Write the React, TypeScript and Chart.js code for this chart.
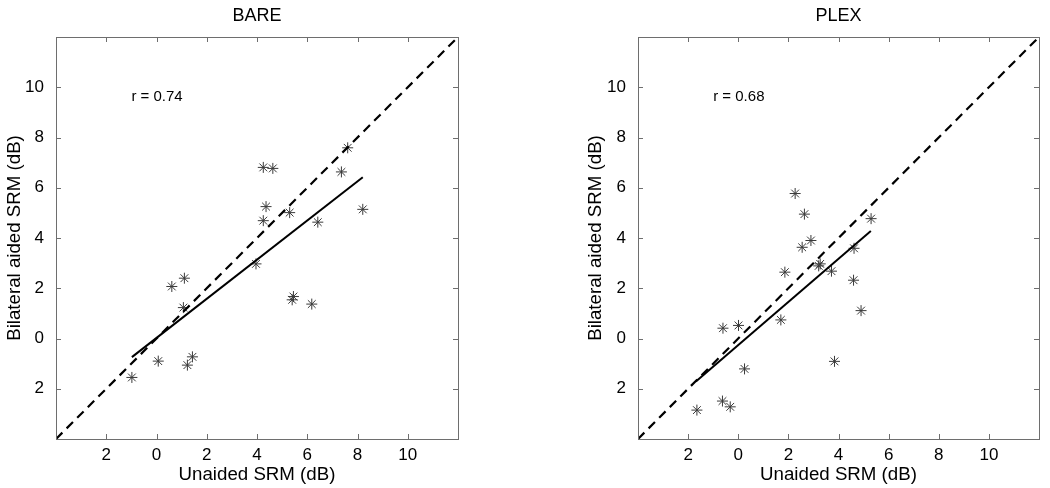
import React, { useEffect, useRef } from 'react';
import { Chart, registerables } from 'chart.js';

Chart.register(...registerables);

// ---- data ----
const bareX = [4.25, 4.63, 7.61, 7.36, 4.36, 5.30, 4.25, 6.42, 8.21, 3.96, 1.11, 0.61, 1.07, 5.45, 5.40, 6.18, 0.07, 1.43, 1.23, -0.98];
const bareY = [6.81, 6.77, 7.59, 6.63, 5.25, 5.01, 4.69, 4.63, 5.14, 2.97, 2.40, 2.07, 1.23, 1.67, 1.54, 1.37, -0.90, -0.73, -1.06, -1.55];
const bareFitX = [-0.98, 8.21];
const bareFitY = [-0.74, 6.42];

const plexX = [2.27, 2.64, 2.90, 5.30, 2.55, 4.62, 3.27, 3.21, 1.86, 3.72, 4.60, 4.90, -0.61, 0.01, 1.70, 0.25, 3.84, -0.63, -0.32, -1.65];
const plexY = [5.77, 4.95, 3.90, 4.77, 3.63, 3.59, 2.97, 2.89, 2.64, 2.68, 2.32, 1.11, 0.41, 0.52, 0.74, -1.21, -0.91, -2.49, -2.72, -2.85];
const plexFitX = [-1.69, 5.29];
const plexFitY = [-1.71, 4.28];

const identityLine = [-4, 12];
const axisMin = -4;
const axisMax = 12;
const tickValues = [-2, 0, 2, 4, 6, 8, 10];
const tickLabels = ['2', '0', '2', '4', '6', '8', '10'];

const xTitle = 'Unaided SRM (dB)';
const yTitle = 'Bilateral aided SRM (dB)';

const FONT = '"Liberation Sans", Arial, Helvetica, sans-serif';

const tickCb = (v: any) => {
  const i = tickValues.indexOf(Number(v));
  return i >= 0 ? tickLabels[i] : '';
};

const framePlugin = {
  id: 'frame',
  afterDraw(chart: any, _args: any, opts: any) {
    const { ctx, chartArea: a, scales } = chart;
    const xs = scales.x;
    const ys = scales.y;
    ctx.save();
    ctx.strokeStyle = '#6e6e6e';
    ctx.lineWidth = 1;
    ctx.strokeRect(Math.round(a.left) + 0.5, Math.round(a.top) + 0.5, Math.round(a.right - a.left), Math.round(a.bottom - a.top));
    const tl = 5;
    ctx.beginPath();
    for (const v of tickValues) {
      const px = Math.round(xs.getPixelForValue(v)) + 0.5;
      ctx.moveTo(px, a.bottom);
      ctx.lineTo(px, a.bottom - tl);
      ctx.moveTo(px, a.top);
      ctx.lineTo(px, a.top + tl);
      const py = Math.round(ys.getPixelForValue(v)) + 0.5;
      ctx.moveTo(a.left, py);
      ctx.lineTo(a.left + tl, py);
      ctx.moveTo(a.right, py);
      ctx.lineTo(a.right - tl, py);
    }
    ctx.stroke();
    // title
    ctx.fillStyle = '#000';
    ctx.font = `18px ${FONT}`;
    ctx.textAlign = 'center';
    ctx.textBaseline = 'middle';
    ctx.fillText(opts.title, (a.left + a.right) / 2, 16);
    // r text
    ctx.font = `15px ${FONT}`;
    ctx.textAlign = 'left';
    ctx.fillText(opts.rText, xs.getPixelForValue(opts.rX), ys.getPixelForValue(opts.rY));
    ctx.restore();
  },
};

type PanelProps = {
  title: string;
  rText: string;
  xs: number[];
  ys: number[];
  fitX: number[];
  fitY: number[];
  padLeft: number;
  yWidth: number;
  padRight: number;
  left: number;
};

function Panel(p: PanelProps) {
  const ref = useRef<HTMLCanvasElement>(null);
  useEffect(() => {
    if (!ref.current) return;
    const chart = new Chart(ref.current, {
      type: 'scatter',
      data: {
        datasets: [
          {
            type: 'line',
            data: identityLine.map((v) => ({ x: v, y: v })),
            borderColor: '#000',
            borderWidth: 2.2,
            borderDash: [9, 6],
            pointRadius: 0,
            fill: false,
          },
          {
            type: 'line',
            data: p.fitX.map((x, i) => ({ x, y: p.fitY[i] })),
            borderColor: '#000',
            borderWidth: 2,
            pointRadius: 0,
            fill: false,
          },
          {
            type: 'scatter',
            data: p.xs.map((x, i) => ({ x, y: p.ys[i] })),
            pointStyle: 'star',
            pointRadius: 5.5,
            borderColor: '#3a3a3a',
            backgroundColor: '#3a3a3a',
            borderWidth: 1,
          },
        ],
      } as any,
      options: {
        animation: false,
        responsive: false,
        maintainAspectRatio: false,
        layout: { padding: { left: p.padLeft, right: p.padRight, top: 37, bottom: 0 } },
        plugins: {
          legend: { display: false },
          tooltip: { enabled: false },
          frame: { title: p.title, rText: p.rText, rX: -1.0, rY: 9.6 },
        } as any,
        scales: {
          x: {
            type: 'linear',
            min: axisMin,
            max: axisMax,
            grid: { display: false, drawTicks: false },
            border: { display: false },
            afterBuildTicks: (s: any) => {
              s.ticks = [axisMin, ...tickValues, axisMax].map((v) => ({ value: v }));
            },
            afterFit: (s: any) => {
              s.height = 49;
            },
            ticks: {
              callback: tickCb,
              autoSkip: false,
              maxRotation: 0,
              padding: 6,
              color: '#000',
              font: { family: FONT, size: 17 },
            },
            title: {
              display: true,
              text: xTitle,
              color: '#000',
              font: { family: FONT, size: 18.7 },
              padding: { top: 0, bottom: 2 },
            },
          },
          y: {
            type: 'linear',
            min: axisMin,
            max: axisMax,
            grid: { display: false, drawTicks: false },
            border: { display: false },
            afterBuildTicks: (s: any) => {
              s.ticks = [axisMin, ...tickValues, axisMax].map((v) => ({ value: v }));
            },
            afterFit: (s: any) => {
              s.width = p.yWidth;
            },
            ticks: {
              callback: tickCb,
              autoSkip: false,
              padding: 12,
              color: '#000',
              font: { family: FONT, size: 17 },
            },
            title: {
              display: true,
              text: yTitle,
              color: '#000',
              font: { family: FONT, size: 18.7 },
              padding: { top: 4, bottom: 0 },
            },
          },
        },
      } as any,
      plugins: [framePlugin],
    });
    return () => chart.destroy();
  }, []);
  return (
    <div style={{ position: 'absolute', left: p.left, top: 0, width: 525, height: 488 }}>
      <canvas ref={ref} width={525} height={488} style={{ width: 525, height: 488, display: 'block' }} />
    </div>
  );
}

export default function App() {
  return (
    <div style={{ position: 'fixed', left: 0, top: 0, width: 1050, height: 488, background: '#fff', overflow: 'hidden' }}>
      <Panel title="BARE" rText="r = 0.74" xs={bareX} ys={bareY} fitX={bareFitX} fitY={bareFitY} padLeft={0} yWidth={56} padRight={67} left={0} />
      <Panel title="PLEX" rText="r = 0.68" xs={plexX} ys={plexY} fitX={plexFitX} fitY={plexFitY} padLeft={56} yWidth={57} padRight={11} left={525} />
    </div>
  );
}
